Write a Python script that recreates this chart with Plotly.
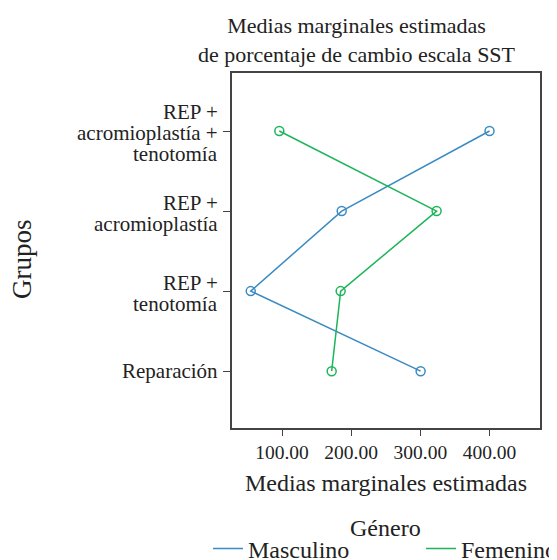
import plotly.graph_objects as go

grupos = ["Reparación", "REP +<br>tenotomía", "REP +<br>acromioplastía", "REP +<br>acromioplastía +<br>tenotomía"]
masculino = [300.4, 54.8, 186.3, 400.0]
femenino = [171.8, 184.8, 323.5, 96.1]
x_ticks = [100, 200, 300, 400]
x_tick_labels = ["100.00", "200.00", "300.00", "400.00"]

FONT = "Liberation Serif"
TXT = "#222222"
BLUE = "#3a8bc2"
GREEN = "#1db559"

# the page body has an 8px default margin; work in window pixels and subtract it
PAD = 8
WIN_W, WIN_H = 557, 560
W, H = WIN_W - PAD, WIN_H - PAD
# plot area in window pixels
PL, PR, PT, PB = 232, 540, 73, 428
L, R, T, B = PL - PAD, PR - PAD, PT - PAD, PB - PAD


def px_x(px):
    return (px - PAD - L) / (R - L)


def px_y(py):
    return (B - (py - PAD)) / (B - T)


fig = go.Figure()
ypos = list(range(len(grupos)))
for name, vals, col, leg in [("Masculino", masculino, BLUE, "legend"),
                             ("Femenino", femenino, GREEN, "legend2")]:
    fig.add_trace(go.Scatter(
        x=vals, y=ypos, mode="lines", name=name, legend=leg,
        line=dict(color=col, width=1.5),
    ))
    fig.add_trace(go.Scatter(
        x=vals, y=ypos, mode="markers", name=name, showlegend=False,
        marker=dict(symbol="circle-open", size=9, color=col, line=dict(width=1.5)),
    ))

annotations = []
# y tick labels: one annotation per line for tight line spacing
LS = 21
for i, lab in enumerate(grupos):
    lines = lab.split("<br>")
    n = len(lines)
    for j, ln in enumerate(lines):
        annotations.append(dict(
            text=ln, xref="paper", x=0, yref="y", y=i,
            xanchor="right", yanchor="middle", xshift=-12,
            yshift=((n - 1) / 2 - j) * LS - (2 if n > 1 else 0),
            showarrow=False, font=dict(family=FONT, size=21, color=TXT),
        ))
# title
annotations.append(dict(
    text="Medias marginales estimadas<br>de porcentaje de cambio escala SST",
    xref="paper", yref="paper", x=px_x(357), y=px_y(40),
    xanchor="center", yanchor="middle", showarrow=False,
    font=dict(family=FONT, size=22, color=TXT),
))
# y axis title
annotations.append(dict(
    text="Grupos", xref="paper", yref="paper", x=px_x(22), y=px_y(259),
    xanchor="center", yanchor="middle", textangle=-90, showarrow=False,
    font=dict(family=FONT, size=27, color=TXT),
))
# legend title
annotations.append(dict(
    text="Género", xref="paper", yref="paper", x=px_x(385), y=px_y(528),
    xanchor="center", yanchor="middle", showarrow=False,
    font=dict(family=FONT, size=24, color=TXT),
))

leg_common = dict(orientation="v", yanchor="middle", y=px_y(549), xanchor="left",
                  font=dict(size=24, family=FONT, color=TXT), itemwidth=30,
                  bgcolor="rgba(0,0,0,0)")

fig.update_layout(
    width=W, height=H,
    margin=dict(l=L, r=W - R, t=T, b=H - B, autoexpand=False),
    paper_bgcolor="white", plot_bgcolor="white",
    font=dict(family=FONT, color=TXT, size=21),
    annotations=annotations,
    xaxis=dict(range=[27.7, 473], tickvals=x_ticks, ticktext=x_tick_labels,
               showgrid=False, zeroline=False, showline=True, mirror=True,
               linecolor="#444444", linewidth=1.5, ticks="outside", ticklen=6,
               tickcolor="#444444", tickfont=dict(size=19.5), automargin=False,
               title=dict(text="Medias marginales estimadas", font=dict(size=24), standoff=12)),
    yaxis=dict(range=[-0.71, 3.725], tickvals=ypos, showticklabels=False,
               showgrid=False, zeroline=False, showline=True, mirror=True,
               linecolor="#444444", linewidth=1.5, ticks="outside", ticklen=7,
               tickcolor="#444444", automargin=False),
    legend=dict(x=px_x(208), **leg_common),
    legend2=dict(x=px_x(421), **leg_common),
)

fig.write_html("out.html")
